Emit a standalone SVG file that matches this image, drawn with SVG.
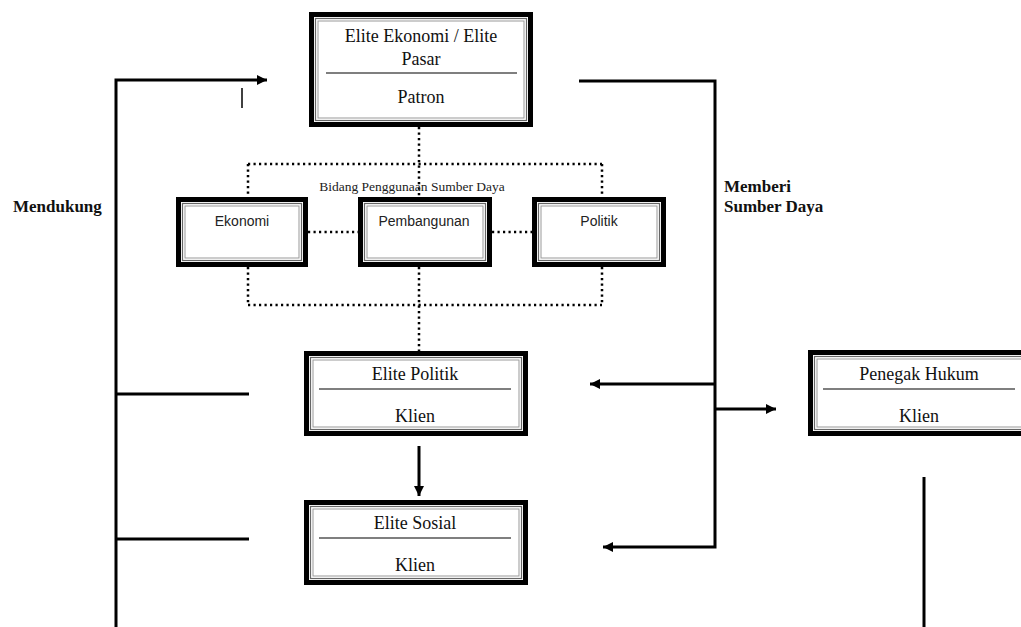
<svg xmlns="http://www.w3.org/2000/svg" width="1021" height="627" viewBox="0 0 1021 627">
<defs>
<style>
.outer{fill:#fff;stroke:#000;stroke-width:5}
.g1{fill:none;stroke:#666;stroke-width:1.2}
.g2{fill:none;stroke:#999;stroke-width:1}
.sep{stroke:#555;stroke-width:1.3}
.t{font-family:"Liberation Serif","Times New Roman",serif;font-size:18px;fill:#111;text-anchor:middle}
.s{font-family:"Liberation Sans",Arial,sans-serif;font-size:14px;fill:#222;text-anchor:middle}
.b{font-family:"Liberation Serif","Times New Roman",serif;font-size:17px;font-weight:bold;fill:#111}
.ln{fill:none;stroke:#000;stroke-width:3}
.dot{fill:none;stroke:#000;stroke-width:2.5;stroke-dasharray:2.2 3.3}
</style>
<marker id="ah" viewBox="0 0 10 10" refX="10" refY="5" markerWidth="11" markerHeight="10" markerUnits="userSpaceOnUse" orient="auto">
<path d="M0,0 L10,5 L0,10 Z" fill="#000"/>
</marker>
</defs>
<rect width="1021" height="627" fill="#fff"/>

<g id="connectors">
<line class="dot" x1="419" y1="127" x2="419" y2="197"/>
<line class="dot" x1="419" y1="267" x2="419" y2="351"/>
<line class="dot" x1="248" y1="164" x2="602" y2="164"/>
<line class="dot" x1="248" y1="305" x2="602" y2="305"/>
<line class="dot" x1="248" y1="164" x2="248" y2="197"/>
<line class="dot" x1="248" y1="267" x2="248" y2="305"/>
<line class="dot" x1="602" y1="164" x2="602" y2="197"/>
<line class="dot" x1="602" y1="267" x2="602" y2="305"/>
<line class="dot" x1="308" y1="232" x2="358" y2="232"/>
<line class="dot" x1="492" y1="232" x2="532" y2="232"/>

<path class="ln" d="M116,627 V80 H267" marker-end="url(#ah)"/>
<line x1="242" y1="88" x2="242" y2="108" stroke="#000" stroke-width="1.5"/>
<line class="ln" x1="116" y1="394" x2="249" y2="394"/>
<line class="ln" x1="116" y1="539" x2="249" y2="539"/>
<path class="ln" d="M579,81 H715 V547 H603" marker-end="url(#ah)"/>
<line class="ln" x1="715" y1="384" x2="590" y2="384" marker-end="url(#ah)"/>
<line class="ln" x1="715" y1="409" x2="776" y2="409" marker-end="url(#ah)"/>
<line class="ln" x1="419" y1="446" x2="419" y2="496" marker-end="url(#ah)"/>
<line class="ln" x1="924" y1="477" x2="924" y2="627"/>
</g>

<g id="labels">
<text class="b" x="13" y="212">Mendukung</text>
<text class="b" x="724" y="192">Memberi</text>
<text class="b" x="724" y="212">Sumber Daya</text>
<text x="412" y="191" font-family="'Liberation Serif','Times New Roman',serif" font-size="13.5" fill="#222" text-anchor="middle">Bidang Penggunaan Sumber Daya</text>
</g>

<g id="node-patron">
<rect class="outer" x="311.5" y="14.5" width="219" height="110"/>
<rect class="g1" x="315.5" y="18.5" width="211" height="102"/>
<rect class="g2" x="318" y="21" width="206" height="97"/>
<text class="t" x="421" y="42">Elite Ekonomi / Elite</text>
<text class="t" x="421" y="65">Pasar</text>
<line class="sep" x1="326" y1="73" x2="517" y2="73"/>
<text class="t" x="421" y="103">Patron</text>
</g>

<g id="node-ekonomi">
<rect class="outer" x="178.5" y="199.5" width="127" height="65"/>
<rect class="g1" x="182.5" y="203.5" width="119" height="57"/>
<rect class="g2" x="185" y="206" width="114" height="52"/>
<text class="s" x="242" y="226">Ekonomi</text>
</g>

<g id="node-pembangunan">
<rect class="outer" x="360.5" y="199.5" width="129" height="65"/>
<rect class="g1" x="364.5" y="203.5" width="121" height="57"/>
<rect class="g2" x="367" y="206" width="116" height="52"/>
<text class="s" x="424" y="226">Pembangunan</text>
</g>

<g id="node-politik">
<rect class="outer" x="534.5" y="199.5" width="129" height="65"/>
<rect class="g1" x="538.5" y="203.5" width="121" height="57"/>
<rect class="g2" x="541" y="206" width="116" height="52"/>
<text class="s" x="599" y="226">Politik</text>
</g>

<g id="node-elite-politik">
<rect class="outer" x="306.5" y="353.5" width="219" height="80"/>
<rect class="g1" x="310.5" y="357.5" width="211" height="72"/>
<rect class="g2" x="313" y="360" width="206" height="67"/>
<text class="t" x="415" y="380">Elite Politik</text>
<line class="sep" x1="319" y1="389" x2="511" y2="389"/>
<text class="t" x="415" y="422">Klien</text>
</g>

<g id="node-elite-sosial">
<rect class="outer" x="306.5" y="502.5" width="219" height="80"/>
<rect class="g1" x="310.5" y="506.5" width="211" height="72"/>
<rect class="g2" x="313" y="509" width="206" height="67"/>
<text class="t" x="415" y="529">Elite Sosial</text>
<line class="sep" x1="319" y1="538" x2="511" y2="538"/>
<text class="t" x="415" y="571">Klien</text>
</g>

<g id="node-penegak-hukum">
<rect class="outer" x="810.5" y="352.5" width="219" height="81"/>
<rect class="g1" x="814.5" y="356.5" width="211" height="73"/>
<rect class="g2" x="817" y="359" width="206" height="68"/>
<text class="t" x="919" y="380">Penegak Hukum</text>
<line class="sep" x1="823" y1="389" x2="1015" y2="389"/>
<text class="t" x="919" y="422">Klien</text>
</g>
</svg>
